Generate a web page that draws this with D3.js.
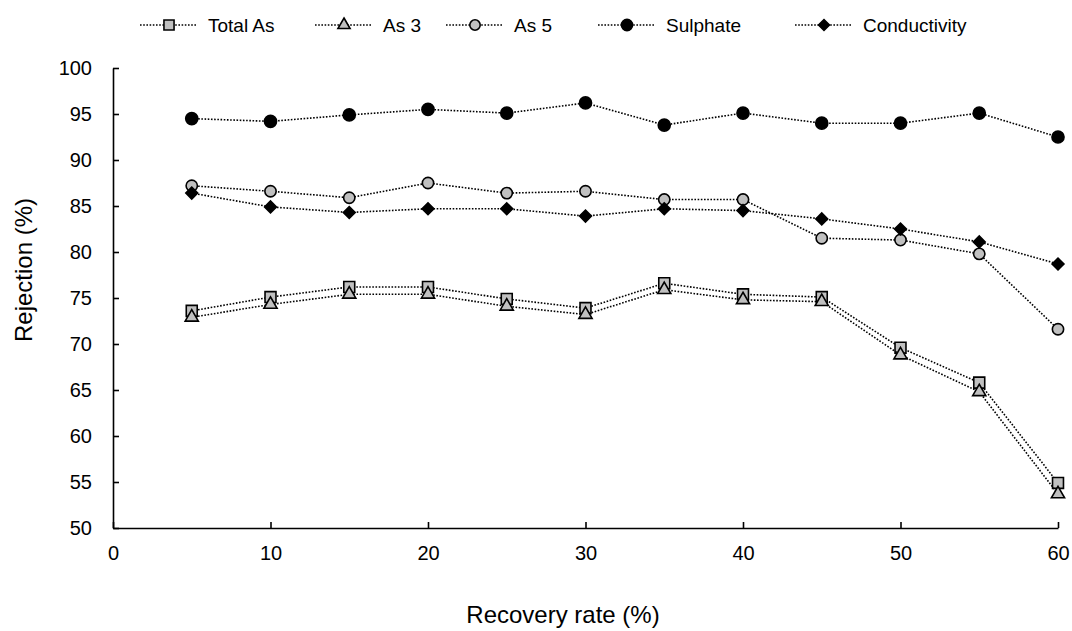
<!DOCTYPE html>
<html>
<head>
<meta charset="utf-8">
<script src="https://cdn.jsdelivr.net/npm/d3@7"></script>
<style>
  html, body { margin: 0; padding: 0; background: #fff; }
  svg { display: block; font-family: "Liberation Sans", Arial, sans-serif; }
</style>
</head>
<body>
<svg id="chart" width="1072" height="631"></svg>
<script>
// Recovery rate (%) at which each sample was taken
const recovery = [5, 10, 15, 20, 25, 30, 35, 40, 45, 50, 55, 60];

// Rejection (%) per species
const totalAs      = [73.6, 75.1, 76.2, 76.2, 74.9, 73.9, 76.6, 75.4, 75.1, 69.6, 65.8, 54.9];
const as3          = [72.9, 74.3, 75.4, 75.4, 74.1, 73.2, 75.9, 74.8, 74.6, 68.8, 64.8, 53.7];
const as5          = [87.2, 86.6, 85.9, 87.5, 86.4, 86.6, 85.7, 85.7, 81.5, 81.3, 79.8, 71.6];
const sulphate     = [94.5, 94.2, 94.9, 95.5, 95.1, 96.2, 93.8, 95.1, 94.0, 94.0, 95.1, 92.5];
const conductivity = [86.4, 84.9, 84.3, 84.7, 84.7, 83.9, 84.7, 84.5, 83.6, 82.5, 81.1, 78.7];

const seriesNames = ["Total As", "As 3", "As 5", "Sulphate", "Conductivity"];
const xTicks = [0, 10, 20, 30, 40, 50, 60];
const yTicks = [50, 55, 60, 65, 70, 75, 80, 85, 90, 95, 100];

const series = [
  { name: seriesNames[0], values: totalAs,      symbol: d3.symbolSquare,   size: 120, fill: "#c0c0c0", rot: 0 },
  { name: seriesNames[1], values: as3,          symbol: d3.symbolTriangle, size: 75,  fill: "#c0c0c0", rot: 0 },
  { name: seriesNames[2], values: as5,          symbol: d3.symbolCircle,   size: 100, fill: "#c0c0c0", rot: 0 },
  { name: seriesNames[3], values: sulphate,     symbol: d3.symbolCircle,   size: 115, fill: "#000",    rot: 0 },
  { name: seriesNames[4], values: conductivity, symbol: d3.symbolSquare,   size: 70,  fill: "#000",    rot: 45 }
];

const svg = d3.select("#chart");
const x = d3.scaleLinear().domain([0, 60]).range([113, 1058]);
const y = d3.scaleLinear().domain([50, 100]).range([528, 68]);

// Axes with inward ticks
const xAxis = svg.append("g")
  .attr("transform", `translate(0,${y(50)})`)
  .call(d3.axisBottom(x).tickValues(xTicks).tickSizeInner(-6).tickSizeOuter(0).tickPadding(18));
const yAxis = svg.append("g")
  .attr("transform", `translate(${x(0)},0)`)
  .call(d3.axisLeft(y).tickValues(yTicks).tickSizeInner(-6).tickSizeOuter(0).tickPadding(21));

[xAxis, yAxis].forEach(g => {
  g.select(".domain").attr("stroke", "#000").attr("stroke-width", 1.6);
  g.selectAll(".tick line").attr("stroke", "#000").attr("stroke-width", 1.6);
  g.selectAll(".tick text")
    .attr("fill", "#000")
    .style("font-size", "20px")
    .style("font-family", "'Liberation Sans', Arial, sans-serif");
});

// Axis titles
svg.append("text")
  .attr("x", 563)
  .attr("y", 623)
  .attr("text-anchor", "middle")
  .style("font-size", "24px")
  .text("Recovery rate (%)");

svg.append("text")
  .attr("transform", "translate(32,270) rotate(-90)")
  .attr("text-anchor", "middle")
  .style("font-size", "24px")
  .text("Rejection (%)");

// Series: dotted connecting lines followed by markers
const line = d3.line()
  .x((d, i) => x(recovery[i]))
  .y(d => y(d));

series.forEach(s => {
  const g = svg.append("g");
  g.append("path")
    .attr("d", line(s.values))
    .attr("fill", "none")
    .attr("stroke", "#000")
    .attr("stroke-width", 1.6)
    .attr("stroke-dasharray", "1.6,1.6");
  g.selectAll("path.marker")
    .data(s.values)
    .join("path")
    .attr("class", "marker")
    .attr("d", d3.symbol().type(s.symbol).size(s.size))
    .attr("transform", (d, i) => `translate(${x(recovery[i])},${y(d)}) rotate(${s.rot})`)
    .attr("fill", s.fill)
    .attr("stroke", "#000")
    .attr("stroke-width", 1.6);
});

// Legend along the top
const legendX = [140, 315, 446, 598, 795];
const legend = svg.append("g");
series.forEach((s, i) => {
  const g = legend.append("g").attr("transform", `translate(${legendX[i]},25)`);
  g.append("line")
    .attr("x1", 0).attr("x2", 57)
    .attr("stroke", "#000").attr("stroke-width", 1.6)
    .attr("stroke-dasharray", "1.6,1.6");
  g.append("path")
    .attr("d", d3.symbol().type(s.symbol).size(s.size * 0.85))
    .attr("transform", `translate(29,0) rotate(${s.rot})`)
    .attr("fill", s.fill)
    .attr("stroke", "#000")
    .attr("stroke-width", 1.6);
  g.append("text")
    .attr("x", 68)
    .attr("dy", "0.35em")
    .style("font-size", "19px")
    .text(s.name);
});
</script>
</body>
</html>
